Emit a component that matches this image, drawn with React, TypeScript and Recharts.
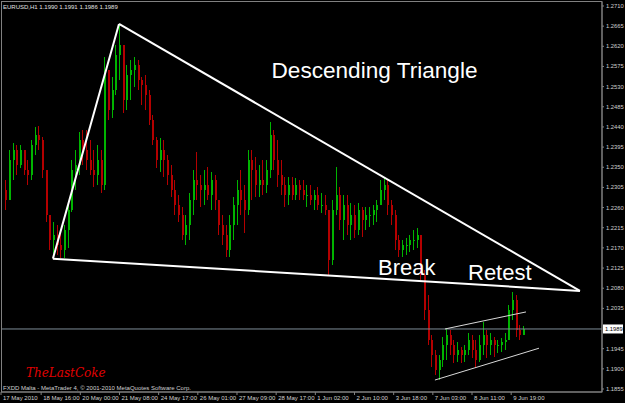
import { ComposedChart, Bar, XAxis, YAxis, ReferenceLine } from "recharts"

// 3-hour candles, EURUSD 17 May - 10 Jun 2010
const closes = [
  1.2277, 1.2366, 1.2389, 1.2355, 1.2389, 1.2344, 1.2333, 1.2400, 1.2422, 1.2411,
  1.2344, 1.2243, 1.2188, 1.2199, 1.2177, 1.2166, 1.2210, 1.2254, 1.2344, 1.2355,
  1.2411, 1.2389, 1.2366, 1.2344, 1.2333, 1.2366, 1.2310, 1.2567, 1.2478, 1.2522,
  1.2601, 1.2623, 1.2500, 1.2556, 1.2567, 1.2578, 1.2545, 1.2534, 1.2511, 1.2455,
  1.2411, 1.2366, 1.2389, 1.2366, 1.2333, 1.2299, 1.2266, 1.2243, 1.2199, 1.2221,
  1.2277, 1.2322, 1.2310, 1.2299, 1.2310, 1.2288, 1.2322, 1.2277, 1.2221, 1.2199,
  1.2166, 1.2221, 1.2266, 1.2299, 1.2277, 1.2254, 1.2366, 1.2344, 1.2310, 1.2322,
  1.2310, 1.2344, 1.2422, 1.2366, 1.2333, 1.2310, 1.2288, 1.2310, 1.2288, 1.2310,
  1.2299, 1.2288, 1.2288, 1.2277, 1.2288, 1.2266, 1.2266, 1.2254, 1.2143, 1.2254,
  1.2288, 1.2232, 1.2266, 1.2221, 1.2243, 1.2210, 1.2254, 1.2232, 1.2243, 1.2243,
  1.2254, 1.2266, 1.2299, 1.2310, 1.2266, 1.2243, 1.2188, 1.2166, 1.2177, 1.2177,
  1.2188, 1.2188, 1.2199, 1.2110, 1.2031, 1.1964, 1.1931, 1.1897, 1.1920, 1.1953,
  1.1976, 1.1953, 1.1931, 1.1942, 1.1931, 1.1942, 1.1964, 1.1942, 1.1920, 1.1953,
  1.1976, 1.1953, 1.1964, 1.1953, 1.1953, 1.1960, 1.1964, 1.2031, 1.2054, 1.1987,
  1.1976, 1.1989,
]

const highs = [
  1.2322, 1.2389, 1.2404, 1.2400, 1.2400, 1.2389, 1.2366, 1.2411, 1.2440, 1.2442,
  1.2418, 1.2344, 1.2243, 1.2228, 1.2221, 1.2205, 1.2221, 1.2266, 1.2366, 1.2389,
  1.2429, 1.2433, 1.2433, 1.2411, 1.2389, 1.2400, 1.2389, 1.2596, 1.2567, 1.2552,
  1.2623, 1.2668, 1.2623, 1.2578, 1.2589, 1.2596, 1.2589, 1.2552, 1.2556, 1.2522,
  1.2467, 1.2418, 1.2415, 1.2411, 1.2377, 1.2355, 1.2322, 1.2288, 1.2261, 1.2243,
  1.2293, 1.2344, 1.2384, 1.2333, 1.2344, 1.2351, 1.2339, 1.2333, 1.2277, 1.2243,
  1.2221, 1.2243, 1.2284, 1.2322, 1.2344, 1.2310, 1.2389, 1.2389, 1.2373, 1.2355,
  1.2366, 1.2366, 1.2451, 1.2433, 1.2411, 1.2366, 1.2328, 1.2328, 1.2328, 1.2326,
  1.2322, 1.2322, 1.2310, 1.2310, 1.2299, 1.2306, 1.2293, 1.2288, 1.2250, 1.2277,
  1.2351, 1.2306, 1.2288, 1.2288, 1.2270, 1.2266, 1.2270, 1.2261, 1.2261, 1.2261,
  1.2266, 1.2277, 1.2322, 1.2326, 1.2322, 1.2277, 1.2254, 1.2199, 1.2188, 1.2192,
  1.2199, 1.2210, 1.2214, 1.2199, 1.2121, 1.2065, 1.1976, 1.1942, 1.1931, 1.1971,
  1.1991, 1.1987, 1.1964, 1.1960, 1.1949, 1.1953, 1.1980, 1.1976, 1.1964, 1.1976,
  1.2005, 1.1987, 1.1980, 1.1971, 1.1964, 1.1969, 1.1980, 1.2043, 1.2072, 1.2065,
  1.1998, 1.1995,
]

const lows = [
  1.2254, 1.2288, 1.2322, 1.2333, 1.2348, 1.2333, 1.2310, 1.2322, 1.2377, 1.2389,
  1.2326, 1.2228, 1.2166, 1.2154, 1.2154, 1.2147, 1.2147, 1.2170, 1.2250, 1.2299,
  1.2333, 1.2355, 1.2344, 1.2333, 1.2306, 1.2310, 1.2293, 1.2299, 1.2455, 1.2460,
  1.2511, 1.2545, 1.2471, 1.2478, 1.2500, 1.2529, 1.2522, 1.2489, 1.2478, 1.2444,
  1.2400, 1.2348, 1.2339, 1.2328, 1.2310, 1.2284, 1.2243, 1.2228, 1.2188, 1.2177,
  1.2188, 1.2243, 1.2277, 1.2261, 1.2266, 1.2277, 1.2254, 1.2254, 1.2199, 1.2177,
  1.2150, 1.2150, 1.2188, 1.2221, 1.2243, 1.2203, 1.2243, 1.2277, 1.2284, 1.2284,
  1.2288, 1.2293, 1.2326, 1.2344, 1.2306, 1.2288, 1.2261, 1.2266, 1.2277, 1.2277,
  1.2277, 1.2277, 1.2261, 1.2266, 1.2254, 1.2254, 1.2248, 1.2243, 1.2110, 1.2132,
  1.2243, 1.2210, 1.2188, 1.2199, 1.2188, 1.2192, 1.2199, 1.2194, 1.2210, 1.2217,
  1.2221, 1.2228, 1.2266, 1.2277, 1.2243, 1.2221, 1.2166, 1.2150, 1.2150, 1.2154,
  1.2161, 1.2166, 1.2170, 1.2098, 1.2009, 1.1953, 1.1904, 1.1886, 1.1875, 1.1904,
  1.1920, 1.1931, 1.1913, 1.1915, 1.1913, 1.1915, 1.1931, 1.1924, 1.1902, 1.1915,
  1.1931, 1.1924, 1.1931, 1.1926, 1.1936, 1.1938, 1.1942, 1.1964, 1.2009, 1.1971,
  1.1964, 1.1980,
]

const firstOpen = 1.2300
const lastPrice = 1.1989

const priceTicks = [
  1.2710, 1.2665, 1.2620, 1.2575, 1.2530, 1.2485, 1.2440, 1.2395, 1.2350, 1.2305,
  1.2260, 1.2215, 1.2170, 1.2125, 1.2080, 1.2035, 1.1945, 1.1900, 1.1855,
]

const X_MIN = -2.8
const X_MAX = 488.2
const timeTicks = [X_MIN, 30, 62, 94, 126, 158, 190, 222, 254, 286, 318, 350, 382, 414]
const timeLabels = [
  "17 May 2010", "18 May 16:00", "20 May 00:00", "21 May 08:00", "24 May 17:00",
  "26 May 01:00", "27 May 09:00", "28 May 17:00", "1 Jun 02:00", "2 Jun 10:00",
  "3 Jun 18:00", "7 Jun 03:00", "8 Jun 11:00", "9 Jun 19:00",
]

// hand-drawn lines: [hour, price] pairs
const triangleLeft = [{ x: 39.6, y: 1.2146 }, { x: 93.6, y: 1.2670 }]
const triangleTop = [{ x: 93.6, y: 1.2670 }, { x: 470.2, y: 1.2074 }]
const triangleBase = [{ x: 39.6, y: 1.2146 }, { x: 470.2, y: 1.2074 }]
const channelTop = [{ x: 359.9, y: 1.1989 }, { x: 426.1, y: 1.2027 }]
const channelBottom = [{ x: 351.7, y: 1.1875 }, { x: 436.7, y: 1.1946 }]

const GREEN = "#00b400"
const RED = "#b40000"
const AXIS = "#808080"
const FONT = "'Liberation Sans', Arial, sans-serif"

const candles = closes.map((close, i) => {
  const open = i === 0 ? firstOpen : closes[i - 1]
  const high = Math.max(highs[i], open, close)
  const low = Math.min(lows[i], open, close)
  return { h: i * 3 + 1, open, close, high, low, range: [low, high] }
})

function Candle(props: any) {
  const { x, y, width, height } = props
  const d = props.payload || props
  if (x == null || d.high == null) return null
  const top = Math.min(y, y + height)
  const span = Math.abs(height)
  const py = (p: number) => top + ((d.high - p) / (d.high - d.low || 1)) * span
  const color = d.close >= d.open ? GREEN : RED
  const cx = Math.round(x + width / 2)
  const b1 = py(Math.max(d.open, d.close))
  const b2 = py(Math.min(d.open, d.close))
  return (
    <g shapeRendering="crispEdges">
      <line x1={cx + 0.5} x2={cx + 0.5} y1={top} y2={top + span} stroke={color} />
      <rect x={cx} y={b1} width={2} height={Math.max(1, b2 - b1)} fill={color} />
    </g>
  )
}

function PriceTick(props: any) {
  const { x, y, payload } = props
  return (
    <text x={x} y={y} dy="0.35em" textAnchor="start" fontSize={5.8} fontFamily={FONT} fill="#d0d0d0">
      {payload.value.toFixed(4)}
    </text>
  )
}

function TimeTick(props: any) {
  const { x, y, index } = props
  return (
    <text x={x + 2} y={y + 3} textAnchor="start" fontSize={6} fontFamily={FONT} fill="#d0d0d0">
      {timeLabels[index]}
    </text>
  )
}

function PriceBox(props: any) {
  const vb = props.viewBox
  if (!vb) return null
  const x = vb.x + vb.width + 1
  return (
    <g>
      <rect x={x} y={vb.y - 4.5} width={20} height={9} fill="#ffffff" />
      <text x={x + 2} y={vb.y} dy="0.35em" fontSize={5.8} fontFamily={FONT} fill="#000">
        {lastPrice.toFixed(4)}
      </text>
    </g>
  )
}

export default function App() {
  return (
    <div style={{ position: "absolute", left: 0, top: 0, width: 625, height: 403, background: "#000" }}>
      <ComposedChart width={625} height={403} data={candles} margin={{ top: 2, right: 0, left: 1, bottom: 0 }}>
        <XAxis
          dataKey="h"
          type="number"
          domain={[X_MIN, X_MAX]}
          allowDataOverflow
          ticks={timeTicks}
          interval={0}
          height={11}
          axisLine={{ stroke: AXIS }}
          tickLine={{ stroke: AXIS }}
          tickSize={3}
          tickMargin={2}
          tick={<TimeTick />}
        />
        <YAxis
          orientation="right"
          type="number"
          domain={[1.18483, 1.27189]}
          allowDataOverflow
          ticks={priceTicks}
          interval={0}
          width={23}
          axisLine={{ stroke: AXIS }}
          tickLine={{ stroke: AXIS }}
          tickSize={2}
          tickMargin={2}
          tick={<PriceTick />}
        />
        <ReferenceLine y={lastPrice} stroke="#7e8c98" label={<PriceBox />} />
        <Bar dataKey="range" shape={<Candle />} barSize={3} isAnimationActive={false} />
        <ReferenceLine segment={triangleLeft} stroke="#ffffff" strokeWidth={2} />
        <ReferenceLine segment={triangleTop} stroke="#ffffff" strokeWidth={2} />
        <ReferenceLine segment={triangleBase} stroke="#ffffff" strokeWidth={2} />
        <ReferenceLine segment={channelTop} stroke="#d8d8d8" strokeWidth={1} />
        <ReferenceLine segment={channelBottom} stroke="#d8d8d8" strokeWidth={1} />
      </ComposedChart>
      <svg width={625} height={403} style={{ position: "absolute", left: 0, top: 0, pointerEvents: "none" }}>
        <rect x={1.5} y={1.5} width={600.5} height={390.5} fill="none" stroke={AXIS} />
        <text x={3} y={8.7} fontSize={6} fontFamily={FONT} fill="#e0e0e0">
          EURUSD,H1 1.1990 1.1991 1.1986 1.1989
        </text>
        <text x={3} y={390} fontSize={6} fontFamily={FONT} fill="#d0d0d0">
          FXDD Malta - MetaTrader 4, © 2001-2010 MetaQuotes Software Corp.
        </text>
        <text x={26} y={377} fontSize={12} fontStyle="italic" fontFamily="'DejaVu Serif', serif" fill="#e00000">
          TheLastCoke
        </text>
        <text x={271.5} y={78} fontSize={22.6} fontFamily={FONT} fill="#ffffff">Descending Triangle</text>
        <text x={378} y={275} fontSize={22} fontFamily={FONT} fill="#ffffff">Break</text>
        <text x={468} y={280} fontSize={22} fontFamily={FONT} fill="#ffffff">Retest</text>
      </svg>
    </div>
  )
}
